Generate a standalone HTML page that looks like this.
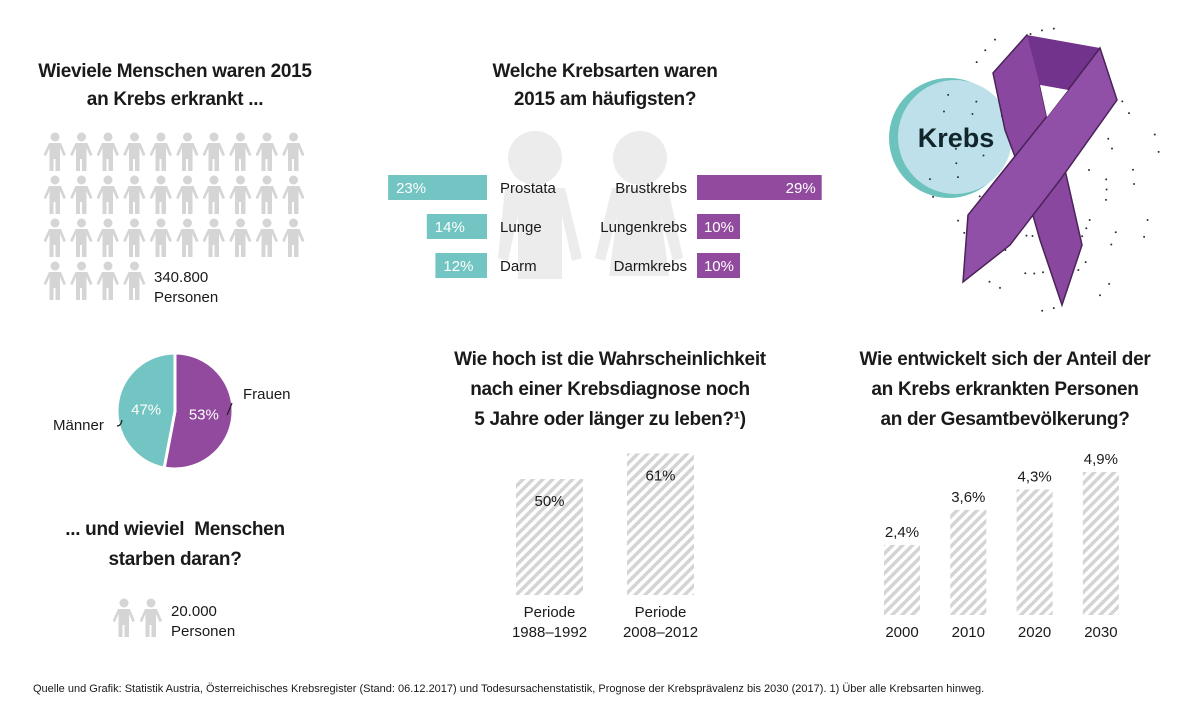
<!DOCTYPE html>
<html><head><meta charset="utf-8"><style>
body{margin:0;background:#fff;width:1200px;height:714px;overflow:hidden;font-family:"Liberation Sans",sans-serif;color:#1a1a1a}
.t{position:absolute;font-weight:bold;font-size:19px;text-align:center;line-height:28px;letter-spacing:-0.3px}
.l{position:absolute;font-size:15px}
</style></head><body>
<svg width="1200" height="714" style="position:absolute;left:0;top:0" id="svg">
<defs>
<pattern id="hatch" width="7" height="7" patternUnits="userSpaceOnUse" patternTransform="rotate(45)"><rect width="7" height="7" fill="#fff"/><rect width="3.5" height="7" fill="#d4d4d4"/></pattern>
<symbol id="person" viewBox="0 0 22 40"><circle cx="11" cy="5" r="4.5" fill="#d5d5d5"/><path d="M5 11h12l5 12-2.5 1-3.5-8v23h-4.5V27h-2v12H5.5V16L2 24-0.5 23z" fill="#d5d5d5"/></symbol>
</defs>
<g id="people"></g>
<g><use href="#person" x="113" y="598" width="22" height="40"/><use href="#person" x="140" y="598" width="22" height="40"/></g>
<g fill="#ececec"><circle cx="535" cy="158" r="27"/><path d="M505 188h60l17 70-10 3-10-45v63h-44v-63l-10 45-10-3z"/></g>
<g fill="#ececec"><circle cx="640" cy="158" r="27"/><path d="M612 188h56l15 70-10 3-12-45 8 60h-60l8-60-12 45-10-3z"/></g>
<g id="hbars"></g>
<g id="pie"></g>
<g id="surv"></g>
<g id="prev"></g>
<g>
<circle cx="949" cy="138" r="60" fill="#6cc2bd"/><circle cx="955" cy="137" r="57" fill="#bde0ea"/>
<g id="dots"></g>
<path d="M993 73L1027 35 1045 60 1040 85 1047 117 1065 170 1082 245 1062 305 1040 240 1020 170 1005 130z" fill="#8a47a0" stroke="#4a2358" stroke-width="1.5"/>
<path d="M1027 35L1100 48 1068 90 1040 85z" fill="#71338c"/>
<path d="M1100 48L1117 100 1060 180 1010 245 963 282 968 215 1020 150 1068 90z" fill="#9150a8" stroke="#4a2358" stroke-width="1.5"/>
<path d="M1040 85L1068 90 1047 117z" fill="#fff"/>
</g>
</svg>
<div class="t" style="left:20px;top:58px;width:310px">Wieviele Menschen waren 2015<br>an Krebs erkrankt ...</div>
<div class="t" style="left:450px;top:58px;width:310px">Welche Krebsarten waren<br>2015 am häufigsten?</div>
<div class="t" style="left:420px;top:345px;width:380px;line-height:30px">Wie hoch ist die Wahrscheinlichkeit<br>nach einer Krebsdiagnose noch<br>5 Jahre oder länger zu leben?¹)</div>
<div class="t" style="left:815px;top:345px;width:380px;line-height:30px">Wie entwickelt sich der Anteil der<br>an Krebs erkrankten Personen<br>an der Gesamtbevölkerung?</div>
<div class="t" style="left:20px;top:515px;width:310px;line-height:30px">... und wieviel&nbsp; Menschen<br>starben daran?</div>
<div class="l" style="left:154px;top:268px;line-height:20px">340.800<br>Personen</div>
<div class="l" style="left:171px;top:602px;line-height:20px">20.000<br>Personen</div>
<div class="l" style="left:53px;top:417px">Männer</div>
<div class="l" style="left:243px;top:386px">Frauen</div>
<div style="position:absolute;left:33px;top:683px;font-size:11px">Quelle und Grafik: Statistik Austria, Österreichisches Krebsregister (Stand: 06.12.2017) und Todesursachenstatistik, Prognose der Krebsprävalenz bis 2030 (2017). 1) Über alle Krebsarten hinweg.</div>
<script>
const NS="http://www.w3.org/2000/svg";
function mk(p,t,a,txt){const e=document.createElementNS(NS,t);for(const k in a)e.setAttribute(k,a[k]);if(txt!=null)e.textContent=txt;p.appendChild(e);return e;}
const peopleCounts=[10,10,10,4];
const pg=document.getElementById('people');
peopleCounts.forEach((n,r)=>{for(let c=0;c<n;c++){const u=mk(pg,'use',{href:'#person',x:44+c*26.5,y:132+r*43,width:22,height:40});

}});
const menCats=["Prostata","Lunge","Darm"];
const menVals=[23,14,12];
const womenCats=["Brustkrebs","Lungenkrebs","Darmkrebs"];
const womenVals=[29,10,10];
const hb=document.getElementById('hbars');
const hs=v=>v*4.3;
menCats.forEach((c,i)=>{const y=175+i*39,w=hs(menVals[i]);
const r=mk(hb,'rect',{x:487-w,y:y,width:w,height:25,fill:'#72c5c2'});


mk(hb,'text',{x:487-w+8,y:y+18,fill:'#fff','font-size':15},menVals[i]+'%');
mk(hb,'text',{x:500,y:y+18,fill:'#1a1a1a','font-size':15},c);});
womenCats.forEach((c,i)=>{const y=175+i*39,w=hs(womenVals[i]);
const r=mk(hb,'rect',{x:697,y:y,width:w,height:25,fill:'#914a9d'});


mk(hb,'text',{x:697+w-6,y:y+18,fill:'#fff','font-size':15,'text-anchor':'end'},womenVals[i]+'%');
mk(hb,'text',{x:687,y:y+18,fill:'#1a1a1a','font-size':15,'text-anchor':'end'},c);});
const pieLabels=["Frauen","Männer"];
const pieVals=[53,47];
const pieColors=['#914a9d','#72c5c2'];
const pie=document.getElementById('pie');const cx=175,cy=411,R=58;let a0=0;
pieVals.forEach((v,i)=>{const a1=a0+v/100*2*Math.PI;
const p=(a)=>[cx+R*Math.sin(a),cy-R*Math.cos(a)];const [x0,y0]=p(a0),[x1,y1]=p(a1);
const s=mk(pie,'path',{d:`M${cx},${cy}L${x0},${y0}A${R},${R} 0 ${a1-a0>Math.PI?1:0} 1 ${x1},${y1}Z`,fill:pieColors[i],stroke:'#fff','stroke-width':3});


const m=(a0+a1)/2;mk(pie,'text',{x:cx+R*0.5*Math.sin(m),y:cy-R*0.5*Math.cos(m)+6,fill:'#fff','font-size':15,'text-anchor':'middle'},v+'%');a0=a1;});
mk(pie,'path',{d:'M232 403q-3 8-5 12M117 426q4 0 5-6',stroke:'#222',fill:'none','stroke-width':1.2});
const survCats=["1988–1992","2008–2012"];
const survVals=[50,61];
const sv=document.getElementById('surv');
survCats.forEach((c,i)=>{const x=516+i*111,h=survVals[i]*2.32;
const r=mk(sv,'rect',{x:x,y:595-h,width:67,height:h,fill:'url(#hatch)'});


mk(sv,'text',{x:x+33.5,y:595-h+27,'font-size':15,'text-anchor':'middle',fill:'#1a1a1a'},survVals[i]+'%');
mk(sv,'text',{x:x+33.5,y:617,'font-size':15,'text-anchor':'middle',fill:'#1a1a1a'},'Periode');
mk(sv,'text',{x:x+33.5,y:637,'font-size':15,'text-anchor':'middle',fill:'#1a1a1a'},c);});
const prevYears=["2000","2010","2020","2030"];
const prevVals=[2.4,3.6,4.3,4.9];
const pv=document.getElementById('prev');
prevYears.forEach((c,i)=>{const x=884+i*66.3,h=prevVals[i]*29.2;
const r=mk(pv,'rect',{x:x,y:615-h,width:36,height:h,fill:'url(#hatch)'});


mk(pv,'text',{x:x+18,y:615-h-8,'font-size':15,'text-anchor':'middle',fill:'#1a1a1a'},String(prevVals[i]).replace('.',',')+'%');
mk(pv,'text',{x:x+18,y:637,'font-size':15,'text-anchor':'middle',fill:'#1a1a1a'},c);});
const svg=document.getElementById('svg');
const kt=mk(svg,'text',{x:956,y:147,'font-size':27,'font-weight':'bold','text-anchor':'middle',fill:'#10262b'},'Krebs');


const dots=document.getElementById('dots');
for(let k=0;k<80;k++){const t=k*2.399,rr=55+((k*37)%90);mk(dots,'circle',{cx:1045+rr*Math.cos(t)*0.8,cy:170+rr*Math.sin(t)*1.1,r:1,fill:'#333'});}
</script>
</body></html>
